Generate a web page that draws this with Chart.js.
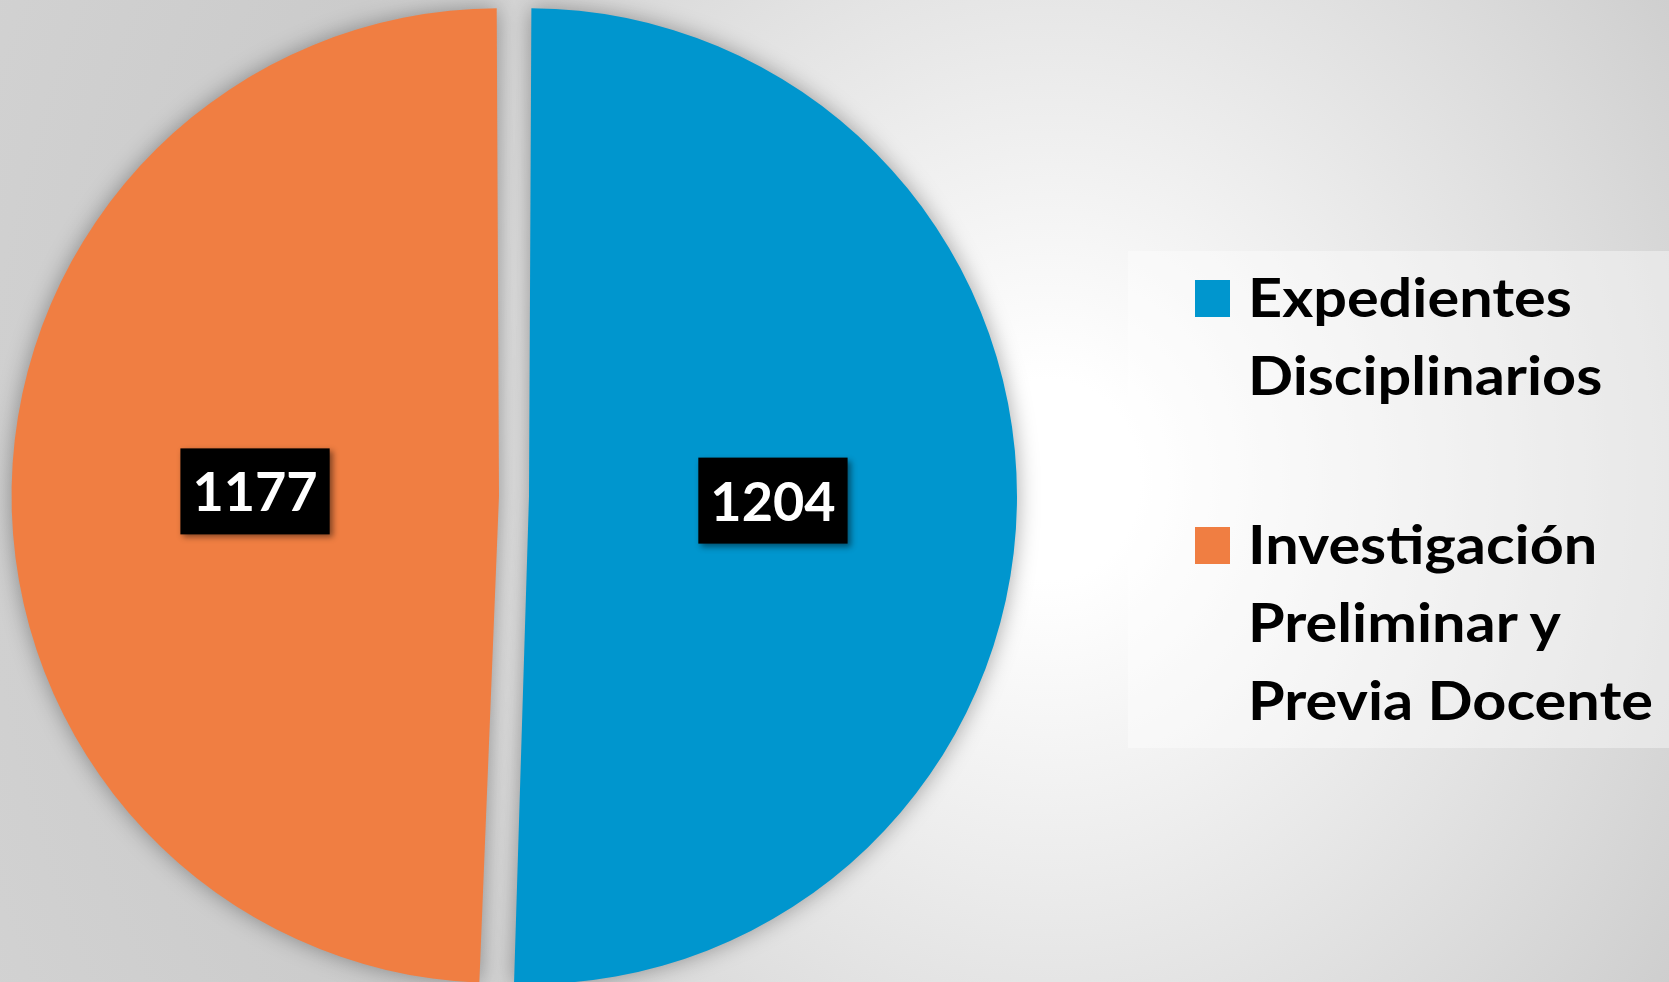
<!DOCTYPE html>
<html>
<head>
<meta charset="utf-8">
<script src="https://cdn.jsdelivr.net/npm/chart.js@4.4.0/dist/chart.umd.min.js"></script>
<style>
html, body { margin: 0; padding: 0; width: 1669px; height: 982px; overflow: hidden; }
body {
    position: relative;
    font-family: Lato, "Open Sans", sans-serif;
    background: radial-gradient(900px 1000px at 1050px 480px, #ffffff 0%, #ffffff 10%, #cbcbcb 90%, #d2d2d2 130%);
}
#pieBox { position: absolute; left: 0; top: 0; width: 1100px; height: 992px; }
#legend {
    position: absolute; left: 1128px; top: 251px; width: 541px; height: 497px;
    background: rgba(255, 255, 255, 0.4);
    box-sizing: border-box; padding-top: 7px;
}
.item { position: relative; padding-left: 120px; margin-bottom: 91px; }
.swatch { position: absolute; left: 67px; top: 22px; width: 35px; height: 37px; }
.line {
    font-weight: bold; font-size: 54px; line-height: 78px; color: #000; white-space: nowrap;
    transform: scaleX(1.1); transform-origin: left center;
}
</style>
</head>
<body>
<div id="pieBox"><canvas id="pieChart"></canvas></div>
<div id="legend"></div>
<script>
const categories = [['Expedientes', 'Disciplinarios'], ['Investigación', 'Preliminar y', 'Previa Docente']];
const counts = [1204, 1177];
const sliceColors = ['#0096CE', '#F07E42'];

// Chart.js moves an arc by offset / 4 (and grows it by the same), so 60 gives a 15px pull-out
const sliceOffset = 60;

// soft shadow round the slices
const pieShadow = {
    id: 'pieShadow',
    beforeDatasetsDraw(chart) {
        const ctx = chart.ctx;
        ctx.save();
        ctx.shadowColor = 'rgba(0, 0, 0, 0.35)';
        ctx.shadowBlur = 22;
        ctx.shadowOffsetX = 0;
        ctx.shadowOffsetY = 0;
    },
    afterDatasetsDraw(chart) {
        chart.ctx.restore();
    }
};

// black value boxes in the middle of each slice
const valueLabels = {
    id: 'valueLabels',
    afterDraw(chart) {
        const ctx = chart.ctx;
        const meta = chart.getDatasetMeta(0);
        const shift = sliceOffset / 4;
        ctx.save();
        ctx.font = 'bold 54px Lato';
        ctx.textAlign = 'center';
        ctx.textBaseline = 'alphabetic';
        meta.data.forEach((arc, i) => {
            const mid = (arc.startAngle + arc.endAngle) / 2;
            const r = (arc.outerRadius + shift) / 2 + shift;
            const px = arc.x + Math.cos(mid) * r;
            const py = arc.y + Math.sin(mid) * r;
            const text = String(counts[i]);
            const w = ctx.measureText(text).width + 24;
            const h = 86;
            ctx.shadowColor = 'rgba(0, 0, 0, 0.45)';
            ctx.shadowBlur = 6;
            ctx.shadowOffsetX = 3;
            ctx.shadowOffsetY = 3;
            ctx.fillStyle = '#000';
            ctx.fillRect(px - w / 2, py - h / 2, w, h);
            ctx.shadowColor = 'transparent';
            ctx.fillStyle = '#fff';
            ctx.fillText(text, px, py + 20);
        });
        ctx.restore();
    }
};

function buildLegend() {
    const legend = document.getElementById('legend');
    categories.forEach((lines, i) => {
        const item = document.createElement('div');
        item.className = 'item';
        const sw = document.createElement('div');
        sw.className = 'swatch';
        sw.style.background = sliceColors[i];
        item.appendChild(sw);
        lines.forEach(t => {
            const l = document.createElement('div');
            l.className = 'line';
            l.textContent = t;
            item.appendChild(l);
        });
        legend.appendChild(item);
    });
}

document.addEventListener('DOMContentLoaded', function() {
    buildLegend();
    const ctx = document.getElementById('pieChart').getContext('2d');
    new Chart(ctx, {
        type: 'pie',
        data: {
            labels: categories.map(l => l.join(' ')),
            datasets: [{
                data: counts,
                backgroundColor: sliceColors,
                borderWidth: 0,
                offset: sliceOffset
            }]
        },
        options: {
            responsive: true,
            maintainAspectRatio: false,
            animation: false,
            radius: 473,
            layout: { padding: { left: 0, top: 0, bottom: 0, right: 72 } },
            plugins: {
                legend: { display: false },
                tooltip: { enabled: false }
            }
        },
        plugins: [pieShadow, valueLabels]
    });
});
</script>
</body>
</html>
